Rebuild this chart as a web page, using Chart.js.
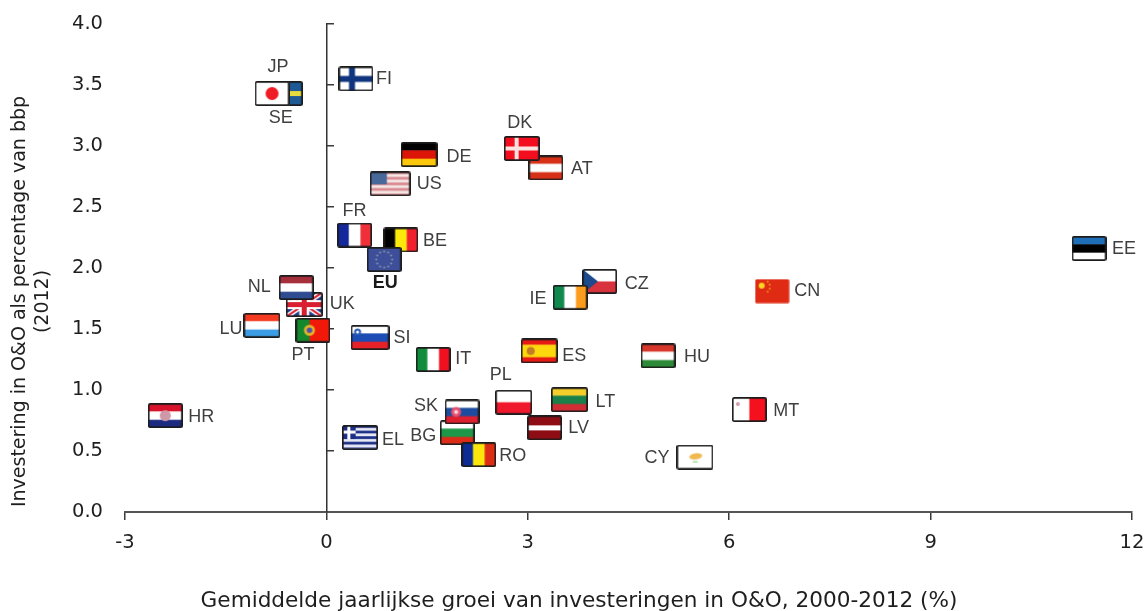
<!DOCTYPE html>
<html><head><meta charset="utf-8">
<style>html,body{margin:0;padding:0;background:#fff}#w{width:1146px;height:611px}canvas{display:block;filter:blur(0.35px)}</style>
<script src="https://cdn.jsdelivr.net/npm/chart.js@4"></script></head>
<body><div id="w"><canvas id="c" width="1146" height="611"></canvas></div>
<script>
const codes=['SE','JP','FI','DE','US','FR','BE','EU','AT','DK','EE','CZ','IE','CN','UK','NL','PT','LU','SI','IT','ES','HU','HR','PL','LT','BG','SK','MT','EL','LV','RO','CY'];
const growth=[-0.62,-0.81,0.44,1.38,0.95,0.42,1.11,0.86,3.27,2.91,11.36,4.07,3.63,6.64,-0.33,-0.45,-0.2,-0.96,0.65,1.59,3.17,4.94,-2.4,2.79,3.62,1.95,2.02,6.3,0.5,3.25,2.27,5.49];
const intensity=[3.43,3.43,3.55,2.93,2.69,2.27,2.23,2.07,2.82,2.98,2.16,1.89,1.76,1.81,1.70,1.84,1.49,1.53,1.43,1.25,1.32,1.28,0.79,0.90,0.92,0.65,0.82,0.84,0.61,0.69,0.47,0.45];
const xTicks=[-3,0,3,6,9,12];
const yTicks=[0,0.5,1,1.5,2,2.5,3,3.5,4];
const xTitle='Gemiddelde jaarlijkse groei van investeringen in O&O, 2000-2012 (%)';
const yTitle=['Investering in O&O als percentage van bbp','(2012)'];
// label placement relative to the flag (style only)
const labelOffset={SE:[-4,24],JP:[6,-27],FI:[28,0],DE:[40,2],US:[39,0],FR:[0,-24],BE:[34,1],EU:[1,24],AT:[36,1],DK:[-2,-25],EE:[35,1],CZ:[37,3],IE:[-32,2],CN:[35,0],UK:[38,-1],NL:[-37,0],PT:[-10,25],LU:[-31,4],SI:[32,0],IT:[30,0],ES:[35,5],HU:[39,1],HR:[36,1],PL:[-13,-27],LT:[36,2],BG:[-34,3],SK:[-36,-6],MT:[37,2],EL:[33,2],LV:[34,0],RO:[34,1],CY:[-38,1]};
const flagWidth={US:41,SI:39,LU:37,UK:37,DE:37,DK:36,EL:36,ES:37,PL:37,LT:37,CY:37,SE:36};

function hs(g,w,h,cols,ws){const t=ws||cols.map(()=>1),s=t.reduce((a,b)=>a+b);let y=0;cols.forEach((c,i)=>{const d=h*t[i]/s;g.fillStyle=c;g.fillRect(0,y,w,d+0.5);y+=d;});}
function vs(g,w,h,cols,ws){const t=ws||cols.map(()=>1),s=t.reduce((a,b)=>a+b);let x=0;cols.forEach((c,i)=>{const d=w*t[i]/s;g.fillStyle=c;g.fillRect(x,0,d+0.5,h);x+=d;});}
function cross(g,w,h,bg,fg,th){g.fillStyle=bg;g.fillRect(0,0,w,h);g.fillStyle=fg;g.fillRect(w*0.3,0,th,h);g.fillRect(0,h/2-th/2,w,th);}
function dot(g,x,y,r,c){g.fillStyle=c;g.beginPath();g.arc(x,y,r,0,7);g.fill();}
const painters={
 JP(g,w,h){g.fillStyle='#fff';g.fillRect(0,0,w,h);dot(g,w*0.5,h/2,6.5,'#f01c24');},
 SE(g,w,h){cross(g,w,h,'#1d5a96','#e8dc3c',5);},
 FI(g,w,h){cross(g,w,h,'#fff','#10357f',6);},
 DK(g,w,h){cross(g,w,h,'#f40d1e','#fbe4e0',4);},
 DE(g,w,h){hs(g,w,h,['#000','#dd1408','#fcc80c']);},
 US(g,w,h){hs(g,w,h,['#d98a8e','#f5e6e6','#d98a8e','#f5e6e6','#d98a8e','#f5e6e6','#d98a8e','#f5e6e6','#d98a8e']);g.fillStyle='#48689a';g.fillRect(0,0,w*0.42,h*0.52);},
 FR(g,w,h){vs(g,w,h,['#14289c','#fff','#f03038']);},
 BE(g,w,h){vs(g,w,h,['#000','#fde80c','#f0202c']);},
 EU(g,w,h){g.fillStyle='#3d4f9a';g.fillRect(0,0,w,h);for(let i=0;i<12;i++){const a=i*Math.PI/6;dot(g,w/2+8*Math.cos(a),h/2+8*Math.sin(a),1,'#8e93a8');}},
 AT(g,w,h){hs(g,w,h,['#d63018','#fff','#d63018']);},
 EE(g,w,h){hs(g,w,h,['#1e6fb8','#000','#fff']);},
 CZ(g,w,h){hs(g,w,h,['#fff','#d8323c']);g.fillStyle='#1c4a8c';g.beginPath();g.moveTo(0,0);g.lineTo(w*0.45,h/2);g.lineTo(0,h);g.fill();},
 IE(g,w,h){vs(g,w,h,['#10894e','#fff','#fb9c1c']);},
 CN(g,w,h){g.fillStyle='#df2a14';g.fillRect(0,0,w,h);dot(g,7,7,3,'#f8d820');dot(g,13,3,.8,'#f8d820');dot(g,15,6,.8,'#f8d820');dot(g,15,10,.8,'#f8d820');dot(g,13,13,.8,'#f8d820');},
 UK(g,w,h){g.fillStyle='#1f3a88';g.fillRect(0,0,w,h);g.lineCap='butt';
  g.strokeStyle='#fff';g.lineWidth=5;g.beginPath();g.moveTo(0,0);g.lineTo(w,h);g.moveTo(w,0);g.lineTo(0,h);g.stroke();
  g.strokeStyle='#d81e30';g.lineWidth=2;g.stroke();
  g.fillStyle='#fff';g.fillRect(w/2-5,0,10,h);g.fillRect(0,h/2-4.5,w,9);
  g.fillStyle='#d81e30';g.fillRect(w/2-2.5,0,5,h);g.fillRect(0,h/2-2.5,w,5);},
 NL(g,w,h){hs(g,w,h,['#a62f3c','#fff','#2f4c92']);},
 LU(g,w,h){hs(g,w,h,['#f43a20','#fff','#3c9ce4']);},
 PT(g,w,h){vs(g,w,h,['#14882c','#f01808'],[2,3]);dot(g,w*0.4,h/2,5.5,'#e6b428');dot(g,w*0.4,h/2,2.8,'#5050a8');},
 SI(g,w,h){hs(g,w,h,['#fff','#1c4cb4','#e62228']);dot(g,7,7,3.5,'#2858b0');dot(g,7,7,1.5,'#fff');},
 IT(g,w,h){vs(g,w,h,['#108c3c','#fff','#f01020']);},
 ES(g,w,h){hs(g,w,h,['#e81a14','#fcd80c','#e81a14'],[1,2,1]);dot(g,10,h/2,4,'#c27c24');},
 HU(g,w,h){hs(g,w,h,['#d8382c','#fff','#2c8a38']);},
 HR(g,w,h){hs(g,w,h,['#d8142c','#fff','#1c2a80']);dot(g,w/2,h/2,5.5,'#cf98a8');},
 PL(g,w,h){hs(g,w,h,['#fff','#f0182c']);},
 LT(g,w,h){hs(g,w,h,['#f4cf2c','#188048','#d02c34']);},
 BG(g,w,h){hs(g,w,h,['#fff','#1c9848','#dc2c18']);},
 SK(g,w,h){hs(g,w,h,['#fff','#1c4ca0','#dc2030']);dot(g,w*0.33,h/2,5,'#e8506c');dot(g,w*0.33,h/2,2,'#f4d8e0');},
 MT(g,w,h){vs(g,w,h,['#fff','#f4101c']);dot(g,6,7,2,'#d0a0a8');},
 EL(g,w,h){hs(g,w,h,['#1c2e86','#e8eaf6','#1c2e86','#e8eaf6','#1c2e86','#e8eaf6','#1c2e86','#e8eaf6','#5660a8']);g.fillStyle='#1c2e86';g.fillRect(0,0,w*0.38,h*0.56);g.fillStyle='#fff';g.fillRect(w*0.38/2-1.5,0,3,h*0.56);g.fillRect(0,h*0.28-1.5,w*0.38,3);},
 LV(g,w,h){hs(g,w,h,['#8e0c14','#fff','#8e0c14'],[2,1,2]);},
 RO(g,w,h){vs(g,w,h,['#0c2c94','#fde60c','#dc2c14']);},
 CY(g,w,h){g.fillStyle='#fff';g.fillRect(0,0,w,h);g.fillStyle='#f2b850';g.beginPath();g.ellipse(w*0.52,h*0.47,6.5,3,-0.15,0,7);g.fill();g.fillStyle='#a8d8a8';g.fillRect(w*0.44,h*0.66,5,1.5);}
};
function flag(code){
 const W=flagWidth[code]||35,H=25,c=document.createElement('canvas');c.width=W;c.height=H;
 const g=c.getContext('2d');
 g.save();g.beginPath();g.roundRect(0.5,0.5,W-1,H-1,1.5);g.clip();painters[code](g,W,H);g.restore();
 if(code!=='CN'){g.strokeStyle='#1c1c1c';g.lineWidth=1.7;g.beginPath();g.roundRect(0.85,0.85,W-1.7,H-1.7,1.5);g.stroke();}
 return c;
}
const flagLabels={id:'flagLabels',afterDatasetsDraw(ch){
 const g=ch.ctx,pts=ch.getDatasetMeta(0).data;g.save();g.textAlign='center';g.textBaseline='middle';
 codes.forEach((k,i)=>{const o=labelOffset[k];g.fillStyle=k==='EU'?'#1a1a1a':'#3f3f3f';g.font=(k==='EU'?'bold ':'')+'18px "Liberation Sans"';g.fillText(k,pts[i].x+o[0],pts[i].y+o[1]);});
 g.restore();}};
// axis titles sit off-centre relative to the plot area in the reference
function shiftTitle(a,key1,key2,d){
 if(a._shifted)return;a._shifted=true;const draw=a.drawTitle.bind(a);
 a.drawTitle=function(){const p=a[key1],q=a[key2];a[key1]=p+d;a[key2]=q+d;draw();a[key1]=p;a[key2]=q;};
}
const axisCol='#3a3a3a',txt='#1e1e1e',font={family:'"DejaVu Sans"',size:19.5};
new Chart(document.getElementById('c'),{
 type:'scatter',
 data:{datasets:[{data:growth.map((x,i)=>({x,y:intensity[i]})),pointStyle:codes.map(flag),pointRadius:10,pointHoverRadius:10}]},
 plugins:[flagLabels],
 options:{responsive:false,animation:false,events:[],
  layout:{padding:{left:0,top:24,right:14,bottom:0}},
  plugins:{legend:{display:false},tooltip:{enabled:false},title:{display:false}},
  scales:{
   x:{type:'linear',position:'bottom',min:-3,max:12,
    afterFit(a){a.height=99;a.paddingLeft=0;a.paddingRight=0;shiftTitle(a,'left','right',-49.5);},
    afterBuildTicks(a){a.ticks=xTicks.map(value=>({value}));},
    grid:{drawOnChartArea:false,drawTicks:true,tickLength:8,color:axisCol,lineWidth:1.5},border:{color:'#555',width:2},
    ticks:{color:txt,font,padding:11,maxRotation:0,callback:v=>String(v)},
    title:{display:true,text:xTitle,color:txt,font:{family:'"DejaVu Sans"',size:21.6},padding:{top:0,bottom:-3}}},
   y:{type:'linear',position:'left',min:0,max:4,
    afterFit(a){a.width=125;a.paddingTop=0;a.paddingBottom=0;shiftTitle(a,'top','bottom',33.5);},
    afterBuildTicks(a){a.ticks=yTicks.map(value=>({value}));},
    grid:{display:false},border:{display:false},
    ticks:{color:txt,font,padding:14,callback:v=>v.toFixed(1)},
    title:{display:true,text:yTitle,color:txt,font:{family:'"DejaVu Sans"',size:19},padding:{top:9,bottom:0}}},
   y0:{type:'linear',position:{x:0},min:0,max:4,
    afterFit(a){a.paddingTop=0;a.paddingBottom=0;},
    afterBuildTicks(a){a.ticks=yTicks.map(value=>({value}));},
    grid:{drawOnChartArea:false,drawTicks:true,tickLength:-8,color:axisCol,lineWidth:1.5},border:{color:'#333',width:1.5},
    ticks:{display:false}}
  }}
});
</script></body></html>
